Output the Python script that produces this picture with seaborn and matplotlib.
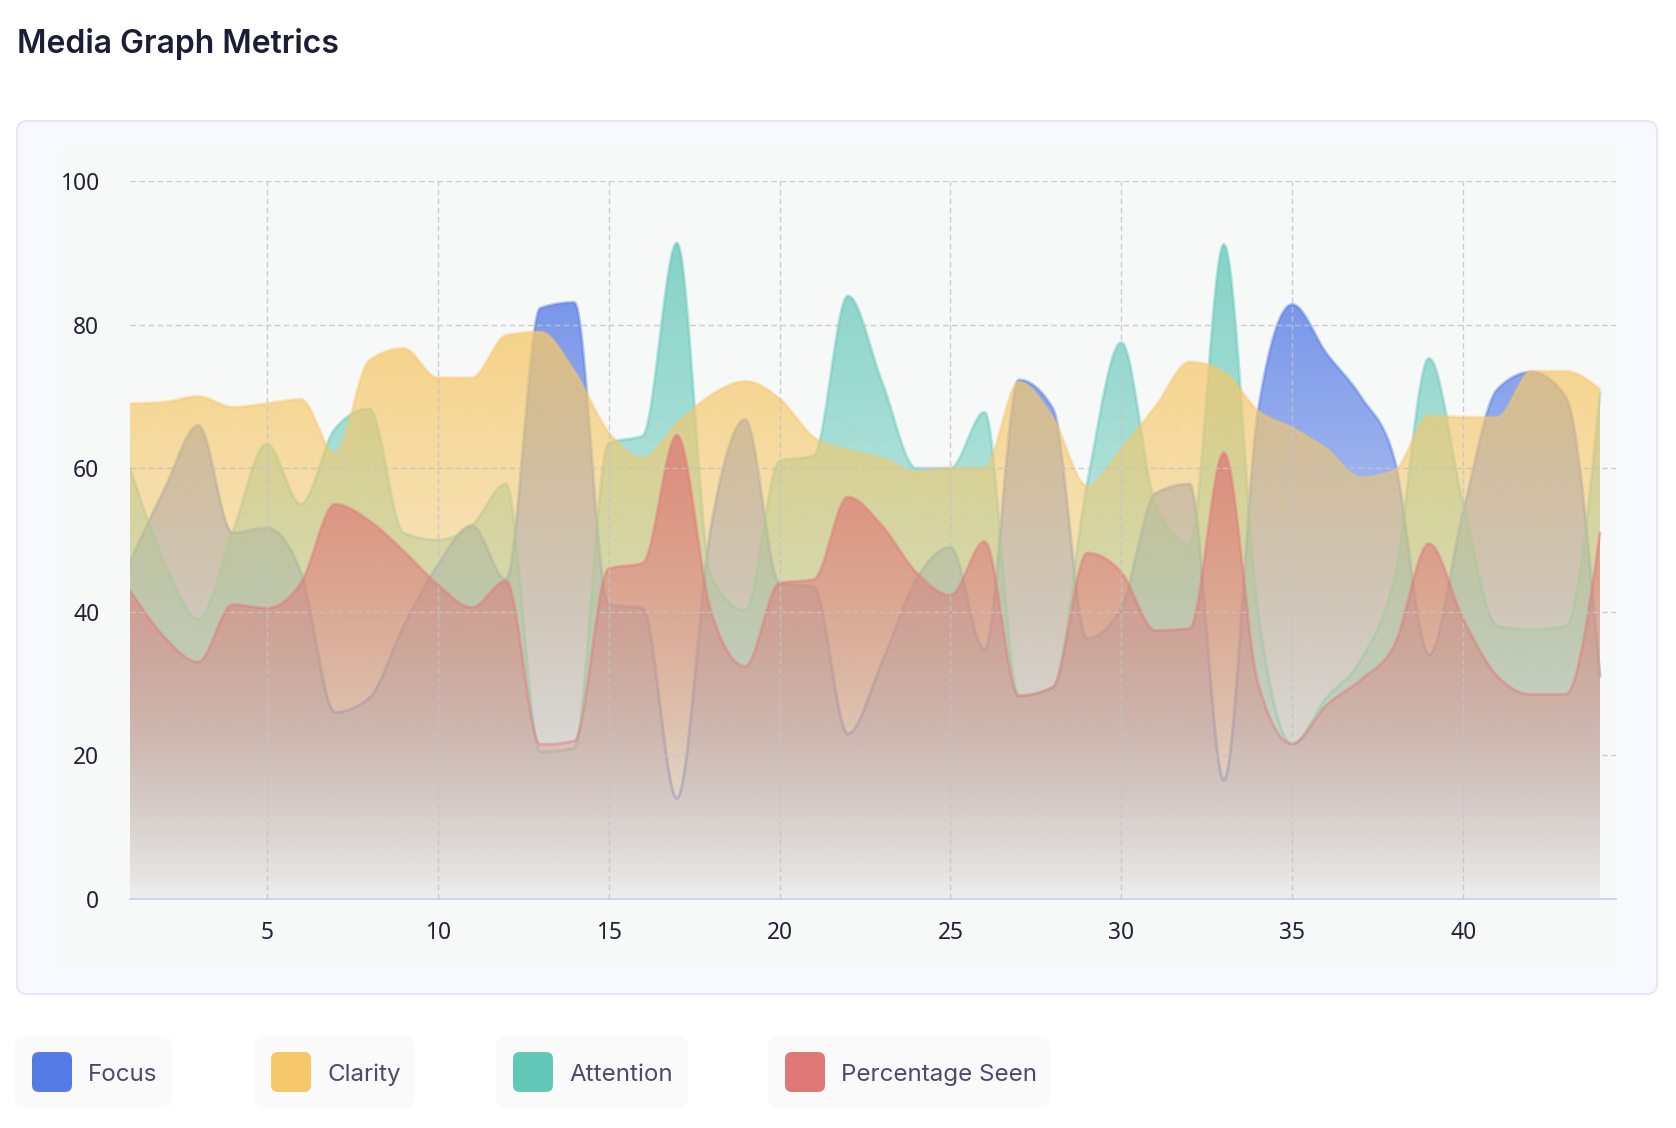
import numpy as np
import pandas as pd
import seaborn as sns
import matplotlib
matplotlib.use('Agg')
import matplotlib.pyplot as plt
from matplotlib.patches import FancyBboxPatch, Rectangle, PathPatch
from matplotlib.path import Path
from matplotlib.colors import to_rgb

# media metrics per frame
frames = list(range(1, 45))
focus = [47, 57, 66, 51, 51.7, 45.5, 26, 28, 38, 46.5, 52, 44.5, 82.3, 83.1, 41,
         40.5, 14, 52, 66.8, 44, 43.5, 23, 33, 44.5, 49, 34.7, 72.3, 68.3, 36.3,
         40.6, 56.5, 57.8, 16.5, 68, 82.8, 76, 70, 61, 34, 54, 71, 73.4, 70, 31]
clarity = [69, 69.2, 70, 68.5, 69, 69.6, 62, 75, 76.7, 72.6, 72.6, 78.5, 79, 73.5,
           65, 61.4, 66.2, 70.2, 72.1, 69.7, 64.3, 62.5, 61.4, 59.5, 60, 60, 72,
           67, 57.5, 62.7, 68.6, 74.8, 73.4, 68, 65.6, 62.7, 58.7, 59.7, 67.3,
           67.1, 67.1, 73.5, 73.5, 71]
attention = [60, 47, 39, 51, 63.4, 55, 65.5, 68.3, 51, 50, 52, 57.8, 20.5, 21,
             63.5, 64.5, 91.4, 45, 40.2, 61, 61.7, 84, 72, 60, 60, 67.8, 28.3,
             29.5, 57.8, 77.5, 55, 49.5, 91.2, 40, 21.6, 28, 33.2, 45, 75.3, 55,
             38, 37.5, 38, 70.5]
percentage_seen = [43, 36.5, 33, 41, 40.5, 44, 55, 52.7, 48.5, 43.8, 40.6, 44.3,
                   21.5, 22, 46, 46.8, 64.6, 40, 32.4, 44, 44.5, 56, 52, 45.5,
                   42.3, 49.8, 28.3, 29.5, 48.2, 45.5, 37.4, 37.7, 62.2, 30, 21.6,
                   27, 30.5, 35.5, 49.5, 39, 31, 28.5, 28.5, 51]

series_names = ['Focus', 'Clarity', 'Attention', 'Percentage Seen']
series_colors = ['#557be6', '#f6c86a', '#64c8b9', '#e07878']
x_ticks = [5, 10, 15, 20, 25, 30, 35, 40]
y_ticks = [0, 20, 40, 60, 80, 100]


def monotone_curve(x, y, steps=24):
    # same idea as d3 curveMonotoneX
    x = np.asarray(x, float)
    y = np.asarray(y, float)
    h = np.diff(x)
    s = np.diff(y) / h
    t = np.zeros(len(x))
    for i in range(1, len(x) - 1):
        p = (s[i - 1] * h[i] + s[i] * h[i - 1]) / (h[i - 1] + h[i])
        t[i] = (np.sign(s[i - 1]) + np.sign(s[i])) * min(abs(s[i - 1]), abs(s[i]), 0.5 * abs(p))
    t[0] = (3 * s[0] - t[1]) / 2
    t[-1] = (3 * s[-1] - t[-2]) / 2
    xs, ys = [], []
    u = np.linspace(0, 1, steps, endpoint=False)
    for i in range(len(x) - 1):
        h00 = 2 * u**3 - 3 * u**2 + 1
        h10 = u**3 - 2 * u**2 + u
        h01 = -2 * u**3 + 3 * u**2
        h11 = u**3 - u**2
        xs.append(x[i] + u * h[i])
        ys.append(h00 * y[i] + h10 * h[i] * t[i] + h01 * y[i + 1] + h11 * h[i] * t[i + 1])
    xs.append([x[-1]])
    ys.append([y[-1]])
    return np.concatenate(xs), np.concatenate(ys)


sns.set_theme(style='white')
plt.rcParams['font.family'] = ['Inter', 'DejaVu Sans']

W, H = 1676, 1128
fig = plt.figure(figsize=(W / 100, H / 100), dpi=100)
fig.patch.set_facecolor('white')

# page layer in pixel coords
bg = fig.add_axes([0, 0, 1, 1])
bg.set_xlim(0, W)
bg.set_ylim(H, 0)
bg.axis('off')

bg.text(17, 44, 'Media Graph Metrics', fontsize=23, fontweight='semibold',
        color='#1b1e36', va='center', ha='left')
bg.add_patch(FancyBboxPatch((17, 121), 1640, 873,
                            boxstyle='round,pad=0,rounding_size=10',
                            facecolor='#f8f9fe', edgecolor='#e6e6f8', lw=1.5))
bg.add_patch(Rectangle((60, 148), 1556, 820, facecolor='#f7f9f9', edgecolor='none'))

# legend chips
chips = [(15, 157), (254, 161), (496, 192), (768, 283)]
for (left, width), name, col in zip(chips, series_names, series_colors):
    bg.add_patch(FancyBboxPatch((left, 1036), width, 72,
                                boxstyle='round,pad=0,rounding_size=10',
                                facecolor='#fafafa', edgecolor='none'))
    bg.add_patch(FancyBboxPatch((left + 17, 1052), 40, 40,
                                boxstyle='round,pad=0,rounding_size=7',
                                facecolor=col, edgecolor='none'))
    bg.text(left + 73, 1075, name, fontsize=17.4, color='#4b4a68',
            va='center', ha='left')

# chart
ax = fig.add_axes([130 / W, 1 - 899 / H, (1616 - 130) / W, (899 - 181) / H])
ax.set_facecolor('none')

# yellow sits over blue and teal in the original, red on top of everything
layers = [('Focus', focus), ('Attention', attention), ('Clarity', clarity),
          ('Percentage Seen', percentage_seen)]
palette = dict(zip(series_names, series_colors))

for i, (name, vals) in enumerate(layers):
    col = palette[name]
    xs, ys = monotone_curve(frames, vals)
    top = max(vals)
    v = np.linspace(0, 100, 400)
    alpha = 0.03 + 0.75 * np.clip(v / top, 0, 1)
    grad = np.zeros((len(v), 1, 4))
    grad[:, 0, :3] = to_rgb(col)
    grad[:, 0, 3] = alpha
    verts = np.vstack([[xs[0], 0], np.column_stack([xs, ys]), [xs[-1], 0]])
    clip = PathPatch(Path(verts), transform=ax.transData,
                     facecolor='none', edgecolor='none')
    ax.add_patch(clip)
    im = ax.imshow(grad, extent=[frames[0], frames[-1], 0, 100], origin='lower',
                   aspect='auto', interpolation='bilinear', zorder=1 + i * 0.2)
    im.set_clip_path(clip)
    sns.lineplot(x=xs, y=ys, color=col, lw=2.2, alpha=0.42, sort=False,
                 estimator=None, ax=ax, zorder=1.1 + i * 0.2)

ax.set_xlim(1, 44.47)
ax.set_ylim(0, 100)
ax.set_xticks(x_ticks)
ax.set_yticks(y_ticks)
ax.set_xlabel('')
ax.set_ylabel('')
for side in ['top', 'right', 'left']:
    ax.spines[side].set_visible(False)
ax.spines['bottom'].set_color('#c9d3ea')
ax.spines['bottom'].set_linewidth(1.3)
ax.set_axisbelow(False)
ax.grid(True, color='#c2c4ca', lw=1.0, linestyle=(0, (4, 2.5)), alpha=0.85)
ax.tick_params(axis='x', length=12.5, width=1.3, color='#c9d3ea', pad=3,
               labelsize=16.4, labelcolor='#1f2333')
ax.tick_params(axis='y', length=0, pad=22, labelsize=16.4, labelcolor='#1f2333')
for lab in ax.get_xticklabels() + ax.get_yticklabels():
    lab.set_fontfamily(['Noto Sans', 'DejaVu Sans'])

fig.savefig('out.png', dpi=100)
